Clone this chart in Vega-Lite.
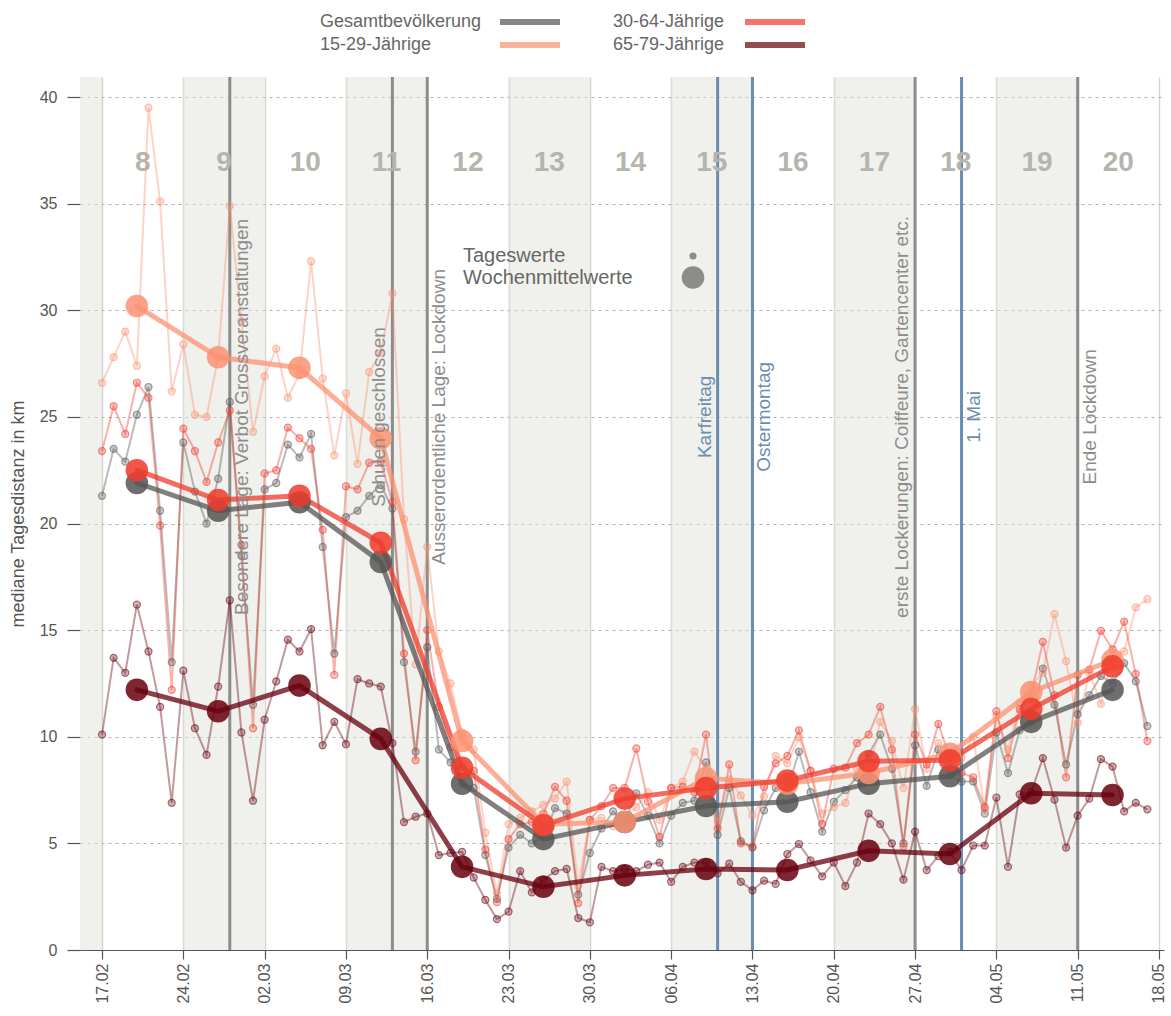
{
 "$schema": "https://vega.github.io/schema/vega-lite/v6.json",
 "width": 1084,
 "height": 873,
 "autosize": {"type": "none"},
 "padding": {"left": 80, "top": 77, "right": 7, "bottom": 66},
 "background": "white",
 "config": {
  "view": {"stroke": null},
  "font": "Liberation Sans",
  "axisX": {"domainColor": "#555555", "domainWidth": 1.2, "tickColor": "#555555", "tickSize": 9, "tickWidth": 1.2, "labelFontSize": 16, "labelColor": "#555555", "labelPadding": 4, "grid": true, "gridColor": "#d6d6cf", "gridWidth": 1.5},
  "axisY": {"domain": false, "tickColor": "#555555", "tickSize": 13, "tickWidth": 1.2, "labelFontSize": 16, "labelColor": "#555555", "labelPadding": 10, "grid": true, "gridColor": "#b0b0b0", "gridDash": [3, 4], "gridWidth": 1.2, "titleFontSize": 18, "titleFontWeight": "normal", "titleColor": "#555555", "titlePadding": 12}
 },
 "datasets": {
  "bands": [
   {"date": "2020-02-10", "end": "2020-02-17"},
   {"date": "2020-02-24", "end": "2020-03-02"},
   {"date": "2020-03-09", "end": "2020-03-16"},
   {"date": "2020-03-23", "end": "2020-03-30"},
   {"date": "2020-04-06", "end": "2020-04-13"},
   {"date": "2020-04-20", "end": "2020-04-27"},
   {"date": "2020-05-04", "end": "2020-05-11"}
  ],
  "events": [
   {"date": "2020-02-28", "label": "Besondere Lage: Verbot Grossveranstaltungen", "kind": "Massnahme"},
   {"date": "2020-03-13", "label": "Schulen geschlossen", "kind": "Massnahme"},
   {"date": "2020-03-16", "label": "Ausserordentliche Lage: Lockdown", "kind": "Massnahme"},
   {"date": "2020-04-10", "label": "Karfreitag", "kind": "Feiertag"},
   {"date": "2020-04-13", "label": "Ostermontag", "kind": "Feiertag"},
   {"date": "2020-04-27", "label": "erste Lockerungen: Coiffeure, Gartencenter etc.", "kind": "Massnahme"},
   {"date": "2020-05-01", "label": "1. Mai", "kind": "Feiertag"},
   {"date": "2020-05-11", "label": "Ende Lockdown", "kind": "Massnahme"}
  ],
  "weeks": [
   {"date": "2020-02-20T12:00:00Z", "week": "8"},
   {"date": "2020-02-27T12:00:00Z", "week": "9"},
   {"date": "2020-03-05T12:00:00Z", "week": "10"},
   {"date": "2020-03-12T12:00:00Z", "week": "11"},
   {"date": "2020-03-19T12:00:00Z", "week": "12"},
   {"date": "2020-03-26T12:00:00Z", "week": "13"},
   {"date": "2020-04-02T12:00:00Z", "week": "14"},
   {"date": "2020-04-09T12:00:00Z", "week": "15"},
   {"date": "2020-04-16T12:00:00Z", "week": "16"},
   {"date": "2020-04-23T12:00:00Z", "week": "17"},
   {"date": "2020-04-30T12:00:00Z", "week": "18"},
   {"date": "2020-05-07T12:00:00Z", "week": "19"},
   {"date": "2020-05-14T12:00:00Z", "week": "20"}
  ],
  "weekly": [
   {"date": "2020-02-20", "Gesamtbevölkerung": 21.9, "15-29-Jährige": 30.2, "30-64-Jährige": 22.5, "65-79-Jährige": 12.2},
   {"date": "2020-02-27", "Gesamtbevölkerung": 20.6, "15-29-Jährige": 27.8, "30-64-Jährige": 21.1, "65-79-Jährige": 11.2},
   {"date": "2020-03-05", "Gesamtbevölkerung": 21.0, "15-29-Jährige": 27.3, "30-64-Jährige": 21.3, "65-79-Jährige": 12.4},
   {"date": "2020-03-12", "Gesamtbevölkerung": 18.2, "15-29-Jährige": 24.0, "30-64-Jährige": 19.1, "65-79-Jährige": 9.9},
   {"date": "2020-03-19", "Gesamtbevölkerung": 7.8, "15-29-Jährige": 9.8, "30-64-Jährige": 8.55, "65-79-Jährige": 3.9},
   {"date": "2020-03-26", "Gesamtbevölkerung": 5.2, "15-29-Jährige": 5.9, "30-64-Jährige": 5.85, "65-79-Jährige": 2.97},
   {"date": "2020-04-02", "Gesamtbevölkerung": 6.0, "15-29-Jährige": 6.0, "30-64-Jährige": 7.1, "65-79-Jährige": 3.5},
   {"date": "2020-04-09", "Gesamtbevölkerung": 6.75, "15-29-Jährige": 8.05, "30-64-Jährige": 7.6, "65-79-Jährige": 3.8},
   {"date": "2020-04-16", "Gesamtbevölkerung": 6.95, "15-29-Jährige": 7.8, "30-64-Jährige": 7.95, "65-79-Jährige": 3.75},
   {"date": "2020-04-23", "Gesamtbevölkerung": 7.8, "15-29-Jährige": 8.3, "30-64-Jährige": 8.85, "65-79-Jährige": 4.65},
   {"date": "2020-04-30", "Gesamtbevölkerung": 8.15, "15-29-Jährige": 9.2, "30-64-Jährige": 8.9, "65-79-Jährige": 4.5},
   {"date": "2020-05-07", "Gesamtbevölkerung": 10.7, "15-29-Jährige": 12.1, "30-64-Jährige": 11.3, "65-79-Jährige": 7.35},
   {"date": "2020-05-14", "Gesamtbevölkerung": 12.2, "15-29-Jährige": 13.6, "30-64-Jährige": 13.3, "65-79-Jährige": 7.27}
  ],
  "daily": [
   {"date": "2020-02-17", "Gesamtbevölkerung": 21.3, "15-29-Jährige": 26.6, "30-64-Jährige": 23.4, "65-79-Jährige": 10.1},
   {"date": "2020-02-18", "Gesamtbevölkerung": 23.5, "15-29-Jährige": 27.8, "30-64-Jährige": 25.5, "65-79-Jährige": 13.7},
   {"date": "2020-02-19", "Gesamtbevölkerung": 22.9, "15-29-Jährige": 29.0, "30-64-Jährige": 24.2, "65-79-Jährige": 13.0},
   {"date": "2020-02-20", "Gesamtbevölkerung": 25.1, "15-29-Jährige": 27.4, "30-64-Jährige": 26.6, "65-79-Jährige": 16.2},
   {"date": "2020-02-21", "Gesamtbevölkerung": 26.4, "15-29-Jährige": 39.5, "30-64-Jährige": 25.9, "65-79-Jährige": 14.0},
   {"date": "2020-02-22", "Gesamtbevölkerung": 20.6, "15-29-Jährige": 35.1, "30-64-Jährige": 19.9, "65-79-Jährige": 11.4},
   {"date": "2020-02-23", "Gesamtbevölkerung": 13.5, "15-29-Jährige": 26.2, "30-64-Jährige": 12.2, "65-79-Jährige": 6.9},
   {"date": "2020-02-24", "Gesamtbevölkerung": 23.8, "15-29-Jährige": 28.4, "30-64-Jährige": 24.45, "65-79-Jährige": 13.1},
   {"date": "2020-02-25", "Gesamtbevölkerung": 21.5, "15-29-Jährige": 25.1, "30-64-Jährige": 23.4, "65-79-Jährige": 10.4},
   {"date": "2020-02-26", "Gesamtbevölkerung": 20.0, "15-29-Jährige": 25.0, "30-64-Jährige": 21.95, "65-79-Jährige": 9.15},
   {"date": "2020-02-27", "Gesamtbevölkerung": 22.1, "15-29-Jährige": 27.8, "30-64-Jährige": 23.8, "65-79-Jährige": 12.35},
   {"date": "2020-02-28", "Gesamtbevölkerung": 25.7, "15-29-Jährige": 34.9, "30-64-Jährige": 25.3, "65-79-Jährige": 16.4},
   {"date": "2020-02-29", "Gesamtbevölkerung": 18.5, "15-29-Jährige": 29.5, "30-64-Jährige": 19.0, "65-79-Jährige": 10.2},
   {"date": "2020-03-01", "Gesamtbevölkerung": 11.5, "15-29-Jährige": 24.3, "30-64-Jährige": 10.4, "65-79-Jährige": 7.0},
   {"date": "2020-03-02", "Gesamtbevölkerung": 21.6, "15-29-Jährige": 26.9, "30-64-Jährige": 22.35, "65-79-Jährige": 10.8},
   {"date": "2020-03-03", "Gesamtbevölkerung": 21.9, "15-29-Jährige": 28.2, "30-64-Jährige": 22.5, "65-79-Jährige": 12.6},
   {"date": "2020-03-04", "Gesamtbevölkerung": 23.7, "15-29-Jährige": 25.9, "30-64-Jährige": 24.5, "65-79-Jährige": 14.55},
   {"date": "2020-03-05", "Gesamtbevölkerung": 23.1, "15-29-Jährige": 27.0, "30-64-Jährige": 24.0, "65-79-Jährige": 14.0},
   {"date": "2020-03-06", "Gesamtbevölkerung": 24.2, "15-29-Jährige": 32.3, "30-64-Jährige": 23.5, "65-79-Jährige": 15.05},
   {"date": "2020-03-07", "Gesamtbevölkerung": 18.9, "15-29-Jährige": 26.8, "30-64-Jährige": 19.7, "65-79-Jährige": 9.6},
   {"date": "2020-03-08", "Gesamtbevölkerung": 13.9, "15-29-Jährige": 23.2, "30-64-Jährige": 12.9, "65-79-Jährige": 10.7},
   {"date": "2020-03-09", "Gesamtbevölkerung": 20.3, "15-29-Jährige": 26.1, "30-64-Jährige": 21.75, "65-79-Jährige": 9.65},
   {"date": "2020-03-10", "Gesamtbevölkerung": 20.6, "15-29-Jährige": 22.8, "30-64-Jährige": 21.6, "65-79-Jährige": 12.7},
   {"date": "2020-03-11", "Gesamtbevölkerung": 21.3, "15-29-Jährige": 27.1, "30-64-Jährige": 22.85, "65-79-Jährige": 12.5},
   {"date": "2020-03-12", "Gesamtbevölkerung": 21.8, "15-29-Jährige": 28.0, "30-64-Jährige": 22.9, "65-79-Jährige": 12.35},
   {"date": "2020-03-13", "Gesamtbevölkerung": 20.7, "15-29-Jährige": 30.8, "30-64-Jährige": 21.0, "65-79-Jährige": 9.7},
   {"date": "2020-03-14", "Gesamtbevölkerung": 13.5, "15-29-Jährige": 20.2, "30-64-Jährige": 13.9, "65-79-Jährige": 6.0},
   {"date": "2020-03-15", "Gesamtbevölkerung": 9.3, "15-29-Jährige": 13.4, "30-64-Jährige": 8.9, "65-79-Jährige": 6.25},
   {"date": "2020-03-16", "Gesamtbevölkerung": 14.2, "15-29-Jährige": 18.9, "30-64-Jährige": 15.0, "65-79-Jährige": 6.4},
   {"date": "2020-03-17", "Gesamtbevölkerung": 9.4, "15-29-Jährige": 14.0, "30-64-Jährige": 11.4, "65-79-Jährige": 4.45},
   {"date": "2020-03-18", "Gesamtbevölkerung": 8.8, "15-29-Jährige": 12.5, "30-64-Jährige": 9.5, "65-79-Jährige": 4.55},
   {"date": "2020-03-19", "Gesamtbevölkerung": 7.8, "15-29-Jährige": 10.2, "30-64-Jährige": 8.6, "65-79-Jährige": 4.6},
   {"date": "2020-03-20", "Gesamtbevölkerung": 7.6, "15-29-Jährige": 9.4, "30-64-Jährige": 8.4, "65-79-Jährige": 3.4},
   {"date": "2020-03-21", "Gesamtbevölkerung": 4.45, "15-29-Jährige": 5.5, "30-64-Jährige": 4.7, "65-79-Jährige": 2.35},
   {"date": "2020-03-22", "Gesamtbevölkerung": 2.4, "15-29-Jährige": 2.65, "30-64-Jährige": 2.25, "65-79-Jährige": 1.45},
   {"date": "2020-03-23", "Gesamtbevölkerung": 4.8, "15-29-Jährige": 5.9, "30-64-Jährige": 5.2, "65-79-Jährige": 1.8},
   {"date": "2020-03-24", "Gesamtbevölkerung": 5.4, "15-29-Jährige": 6.2, "30-64-Jährige": 5.9, "65-79-Jährige": 3.7},
   {"date": "2020-03-25", "Gesamtbevölkerung": 5.0, "15-29-Jährige": 6.5, "30-64-Jährige": 6.0, "65-79-Jährige": 2.7},
   {"date": "2020-03-26", "Gesamtbevölkerung": 5.3, "15-29-Jährige": 6.8, "30-64-Jährige": 6.4, "65-79-Jährige": 3.3},
   {"date": "2020-03-27", "Gesamtbevölkerung": 6.65, "15-29-Jährige": 7.1, "30-64-Jährige": 7.65, "65-79-Jährige": 3.7},
   {"date": "2020-03-28", "Gesamtbevölkerung": 6.4, "15-29-Jährige": 7.9, "30-64-Jährige": 7.0, "65-79-Jährige": 3.8},
   {"date": "2020-03-29", "Gesamtbevölkerung": 2.6, "15-29-Jährige": 3.0, "30-64-Jährige": 2.2, "65-79-Jährige": 1.5},
   {"date": "2020-03-30", "Gesamtbevölkerung": 4.55, "15-29-Jährige": 6.1, "30-64-Jährige": 6.1, "65-79-Jährige": 1.3},
   {"date": "2020-03-31", "Gesamtbevölkerung": 5.7, "15-29-Jährige": 6.2, "30-64-Jährige": 6.75, "65-79-Jährige": 3.9},
   {"date": "2020-04-01", "Gesamtbevölkerung": 6.5, "15-29-Jährige": 5.8, "30-64-Jährige": 7.6, "65-79-Jährige": 3.7},
   {"date": "2020-04-02", "Gesamtbevölkerung": 6.0, "15-29-Jährige": 6.2, "30-64-Jährige": 7.6, "65-79-Jährige": 3.8},
   {"date": "2020-04-03", "Gesamtbevölkerung": 7.35, "15-29-Jährige": 6.7, "30-64-Jährige": 9.45, "65-79-Jährige": 3.7},
   {"date": "2020-04-04", "Gesamtbevölkerung": 6.3, "15-29-Jährige": 7.4, "30-64-Jährige": 6.95, "65-79-Jährige": 4.0},
   {"date": "2020-04-05", "Gesamtbevölkerung": 5.0, "15-29-Jährige": 6.1, "30-64-Jährige": 5.3, "65-79-Jährige": 4.1},
   {"date": "2020-04-06", "Gesamtbevölkerung": 6.3, "15-29-Jährige": 7.6, "30-64-Jährige": 7.6, "65-79-Jährige": 3.2},
   {"date": "2020-04-07", "Gesamtbevölkerung": 6.9, "15-29-Jährige": 7.9, "30-64-Jährige": 7.65, "65-79-Jährige": 3.9},
   {"date": "2020-04-08", "Gesamtbevölkerung": 7.0, "15-29-Jährige": 9.3, "30-64-Jährige": 7.4, "65-79-Jährige": 4.1},
   {"date": "2020-04-09", "Gesamtbevölkerung": 8.8, "15-29-Jährige": 8.5, "30-64-Jährige": 10.1, "65-79-Jährige": 4.1},
   {"date": "2020-04-10", "Gesamtbevölkerung": 5.4, "15-29-Jährige": 6.0, "30-64-Jährige": 5.7, "65-79-Jährige": 3.6},
   {"date": "2020-04-11", "Gesamtbevölkerung": 7.6, "15-29-Jährige": 8.0, "30-64-Jährige": 8.7, "65-79-Jährige": 4.05},
   {"date": "2020-04-12", "Gesamtbevölkerung": 5.1, "15-29-Jährige": 7.25, "30-64-Jährige": 5.0, "65-79-Jährige": 3.2},
   {"date": "2020-04-13", "Gesamtbevölkerung": 4.8, "15-29-Jährige": 6.3, "30-64-Jährige": 4.85, "65-79-Jährige": 2.8},
   {"date": "2020-04-14", "Gesamtbevölkerung": 6.55, "15-29-Jährige": 7.2, "30-64-Jährige": 7.65, "65-79-Jährige": 3.25},
   {"date": "2020-04-15", "Gesamtbevölkerung": 7.6, "15-29-Jährige": 9.1, "30-64-Jährige": 8.75, "65-79-Jährige": 3.1},
   {"date": "2020-04-16", "Gesamtbevölkerung": 7.5, "15-29-Jährige": 8.75, "30-64-Jährige": 9.1, "65-79-Jährige": 4.5},
   {"date": "2020-04-17", "Gesamtbevölkerung": 9.3, "15-29-Jährige": 9.97, "30-64-Jährige": 10.3, "65-79-Jährige": 4.97},
   {"date": "2020-04-18", "Gesamtbevölkerung": 7.4, "15-29-Jährige": 8.4, "30-64-Jährige": 8.4, "65-79-Jährige": 4.2},
   {"date": "2020-04-19", "Gesamtbevölkerung": 5.55, "15-29-Jährige": 6.4, "30-64-Jährige": 5.9, "65-79-Jährige": 3.45},
   {"date": "2020-04-20", "Gesamtbevölkerung": 6.95, "15-29-Jährige": 6.7, "30-64-Jährige": 8.5, "65-79-Jährige": 4.1},
   {"date": "2020-04-21", "Gesamtbevölkerung": 7.5, "15-29-Jährige": 6.9, "30-64-Jährige": 8.55, "65-79-Jährige": 3.0},
   {"date": "2020-04-22", "Gesamtbevölkerung": 8.1, "15-29-Jährige": 8.5, "30-64-Jährige": 9.7, "65-79-Jährige": 4.1},
   {"date": "2020-04-23", "Gesamtbevölkerung": 9.2, "15-29-Jährige": 8.3, "30-64-Jährige": 10.1, "65-79-Jährige": 6.4},
   {"date": "2020-04-24", "Gesamtbevölkerung": 10.1, "15-29-Jährige": 10.7, "30-64-Jährige": 11.4, "65-79-Jährige": 5.9},
   {"date": "2020-04-25", "Gesamtbevölkerung": 8.5, "15-29-Jährige": 9.8, "30-64-Jährige": 9.4, "65-79-Jährige": 5.0},
   {"date": "2020-04-26", "Gesamtbevölkerung": 5.0, "15-29-Jährige": 7.6, "30-64-Jährige": 4.85, "65-79-Jährige": 3.3},
   {"date": "2020-04-27", "Gesamtbevölkerung": 9.6, "15-29-Jährige": 11.3, "30-64-Jährige": 10.1, "65-79-Jährige": 5.55},
   {"date": "2020-04-28", "Gesamtbevölkerung": 7.7, "15-29-Jährige": 8.5, "30-64-Jährige": 8.7, "65-79-Jährige": 3.75},
   {"date": "2020-04-29", "Gesamtbevölkerung": 9.4, "15-29-Jährige": 9.7, "30-64-Jährige": 10.6, "65-79-Jährige": 4.4},
   {"date": "2020-04-30", "Gesamtbevölkerung": 8.2, "15-29-Jährige": 9.2, "30-64-Jährige": 9.0, "65-79-Jährige": 4.6},
   {"date": "2020-05-01", "Gesamtbevölkerung": 7.9, "15-29-Jährige": 9.0, "30-64-Jährige": 8.3, "65-79-Jährige": 3.75},
   {"date": "2020-05-02", "Gesamtbevölkerung": 7.9, "15-29-Jährige": 10.0, "30-64-Jährige": 8.1, "65-79-Jährige": 4.9},
   {"date": "2020-05-03", "Gesamtbevölkerung": 6.4, "15-29-Jährige": 6.6, "30-64-Jährige": 6.7, "65-79-Jährige": 4.9},
   {"date": "2020-05-04", "Gesamtbevölkerung": 10.2, "15-29-Jährige": 11.0, "30-64-Jährige": 11.2, "65-79-Jährige": 7.15},
   {"date": "2020-05-05", "Gesamtbevölkerung": 8.3, "15-29-Jährige": 9.4, "30-64-Jährige": 9.0, "65-79-Jährige": 3.9},
   {"date": "2020-05-06", "Gesamtbevölkerung": 10.3, "15-29-Jährige": 11.6, "30-64-Jährige": 11.3, "65-79-Jährige": 7.3},
   {"date": "2020-05-07", "Gesamtbevölkerung": 10.7, "15-29-Jährige": 12.4, "30-64-Jährige": 12.0, "65-79-Jährige": 7.4},
   {"date": "2020-05-08", "Gesamtbevölkerung": 13.2, "15-29-Jährige": 13.0, "30-64-Jährige": 14.45, "65-79-Jährige": 9.0},
   {"date": "2020-05-09", "Gesamtbevölkerung": 11.5, "15-29-Jährige": 15.75, "30-64-Jährige": 11.95, "65-79-Jährige": 7.05},
   {"date": "2020-05-10", "Gesamtbevölkerung": 8.7, "15-29-Jährige": 13.55, "30-64-Jährige": 8.1, "65-79-Jährige": 4.8},
   {"date": "2020-05-11", "Gesamtbevölkerung": 11.05, "15-29-Jährige": 10.65, "30-64-Jährige": 12.9, "65-79-Jährige": 6.3},
   {"date": "2020-05-12", "Gesamtbevölkerung": 11.95, "15-29-Jährige": 13.0, "30-64-Jährige": 13.15, "65-79-Jährige": 7.1},
   {"date": "2020-05-13", "Gesamtbevölkerung": 12.85, "15-29-Jährige": 11.55, "30-64-Jährige": 14.97, "65-79-Jährige": 8.95},
   {"date": "2020-05-14", "Gesamtbevölkerung": 12.5, "15-29-Jährige": 13.8, "30-64-Jährige": 14.1, "65-79-Jährige": 8.6},
   {"date": "2020-05-15", "Gesamtbevölkerung": 13.45, "15-29-Jährige": 14.0, "30-64-Jährige": 15.4, "65-79-Jährige": 6.5},
   {"date": "2020-05-16", "Gesamtbevölkerung": 12.6, "15-29-Jährige": 16.07, "30-64-Jährige": 12.95, "65-79-Jährige": 6.9},
   {"date": "2020-05-17", "Gesamtbevölkerung": 10.5, "15-29-Jährige": 16.45, "30-64-Jährige": 9.8, "65-79-Jährige": 6.6}
  ]
 },
 "encoding": {
  "x": {
   "field": "date", "type": "temporal", "title": null,
   "scale": {"type": "utc", "domain": [{"year": 2020, "month": 2, "date": 15, "hours": 2, "minutes": 30, "utc": true}, {"year": 2020, "month": 5, "date": 18, "hours": 10, "minutes": 20, "utc": true}]},
   "axis": {
    "format": "%d.%m", "labelAngle": 270,
    "values": [
     {"year": 2020, "month": 2, "date": 17, "utc": true},
     {"year": 2020, "month": 2, "date": 24, "utc": true},
     {"year": 2020, "month": 3, "date": 2, "utc": true},
     {"year": 2020, "month": 3, "date": 9, "utc": true},
     {"year": 2020, "month": 3, "date": 16, "utc": true},
     {"year": 2020, "month": 3, "date": 23, "utc": true},
     {"year": 2020, "month": 3, "date": 30, "utc": true},
     {"year": 2020, "month": 4, "date": 6, "utc": true},
     {"year": 2020, "month": 4, "date": 13, "utc": true},
     {"year": 2020, "month": 4, "date": 20, "utc": true},
     {"year": 2020, "month": 4, "date": 27, "utc": true},
     {"year": 2020, "month": 5, "date": 4, "utc": true},
     {"year": 2020, "month": 5, "date": 11, "utc": true},
     {"year": 2020, "month": 5, "date": 18, "utc": true}
    ]
   }
  }
 },
 "layer": [
  {
   "data": {"name": "bands"},
   "mark": {"type": "rect", "color": "#e1e1d9", "opacity": 0.5, "clip": true},
   "encoding": {"x2": {"field": "end"}}
  },
  {
   "data": {"name": "events"},
   "transform": [{"filter": {"field": "kind", "equal": "Massnahme"}}],
   "mark": {"type": "rule", "strokeWidth": 3, "color": "#8c8c8c"},
   "encoding": {}
  },
  {
   "data": {"name": "events"},
   "transform": [{"filter": {"field": "kind", "equal": "Feiertag"}}],
   "mark": {"type": "rule", "strokeWidth": 3, "color": "#6a8db0"},
   "encoding": {}
  },
  {
   "data": {"name": "weeks"},
   "mark": {"type": "text", "fontSize": 28, "fontWeight": "bold", "color": "#b5b5ad", "baseline": "middle", "align": "center"},
   "encoding": {
    "y": {"datum": 36.9, "type": "quantitative"},
    "text": {"field": "week", "type": "nominal"}
   }
  },
  {
   "data": {"name": "daily"},
   "transform": [{"fold": ["Gesamtbevölkerung", "15-29-Jährige", "30-64-Jährige", "65-79-Jährige"], "as": ["series", "value"]}],
   "mark": {"type": "line", "strokeWidth": 2, "opacity": 0.4},
   "encoding": {
    "y": {
     "field": "value", "type": "quantitative",
     "scale": {"domain": [0, 40.94], "nice": false, "zero": true},
     "axis": {"values": [0, 5, 10, 15, 20, 25, 30, 35, 40], "title": "mediane Tagesdistanz in km"}
    },
    "color": {
     "field": "series", "type": "nominal",
     "scale": {"domain": ["Gesamtbevölkerung", "15-29-Jährige", "30-64-Jährige", "65-79-Jährige"], "range": ["#555555", "#fc9272", "#ef3b2c", "#67000d"]},
     "legend": {
      "orient": "none", "legendX": 240, "legendY": -66, "direction": "horizontal", "columns": 2, "title": null, "padding": 0,
      "values": ["Gesamtbevölkerung", "30-64-Jährige", "15-29-Jährige", "65-79-Jährige"],
      "symbolType": "stroke", "symbolSize": 3600, "symbolStrokeWidth": 6, "symbolOpacity": 0.7,
      "labelFontSize": 18, "labelColor": "#666666", "labelLimit": 400, "columnPadding": 41, "rowPadding": -2,
      "encode": {
       "labels": {"update": {"x": {"value": 0}, "y": {"value": 11}, "align": {"value": "left"}}},
       "symbols": {"update": {"x": {"signal": "datum.index % 2 ? 162 : 210"}, "y": {"value": 11}}}
      }
     }
    }
   }
  },
  {
   "data": {"name": "daily"},
   "transform": [{"fold": ["Gesamtbevölkerung", "15-29-Jährige", "30-64-Jährige", "65-79-Jährige"], "as": ["series", "value"]}],
   "mark": {"type": "circle", "fillOpacity": 0.3, "strokeOpacity": 0.55, "strokeWidth": 1.2},
   "encoding": {
    "y": {"field": "value", "type": "quantitative"},
    "color": {"field": "series", "type": "nominal"},
    "stroke": {"field": "series", "type": "nominal", "scale": {"domain": ["Gesamtbevölkerung", "15-29-Jährige", "30-64-Jährige", "65-79-Jährige"], "range": ["#555555", "#fc9272", "#ef3b2c", "#67000d"]}, "legend": null},
    "size": {
     "datum": "Tageswerte", "type": "ordinal",
     "scale": {"domain": ["Tageswerte", "Wochenmittelwerte"], "range": [50, 510]},
     "legend": {
      "orient": "none", "legendX": 383, "legendY": 169, "title": null, "padding": 0,
      "labelFontSize": 20, "labelColor": "#666666", "labelLimit": 400, "rowPadding": 0,
      "symbolType": "circle", "symbolFillColor": "#7a7a7a", "symbolStrokeColor": "#7a7a7a", "symbolStrokeWidth": 0, "symbolOpacity": 0.85,
      "encode": {
       "labels": {"update": {"x": {"value": 0}, "align": {"value": "left"}}},
       "symbols": {"update": {"x": {"value": 230}}}
      }
     }
    }
   }
  },
  {
   "data": {"name": "weekly"},
   "transform": [{"fold": ["Gesamtbevölkerung", "15-29-Jährige", "30-64-Jährige", "65-79-Jährige"], "as": ["series", "value"]}],
   "mark": {"type": "line", "strokeWidth": 5, "opacity": 0.75, "strokeCap": "round"},
   "encoding": {
    "y": {"field": "value", "type": "quantitative"},
    "color": {"field": "series", "type": "nominal"}
   }
  },
  {
   "data": {"name": "weekly"},
   "transform": [{"fold": ["Gesamtbevölkerung", "15-29-Jährige", "30-64-Jährige", "65-79-Jährige"], "as": ["series", "value"]}],
   "mark": {"type": "circle", "opacity": 0.85},
   "encoding": {
    "y": {"field": "value", "type": "quantitative"},
    "color": {"field": "series", "type": "nominal"},
    "size": {"datum": "Wochenmittelwerte", "type": "ordinal"}
   }
  },
  {
   "data": {"name": "events"},
   "transform": [{"filter": {"field": "label", "oneOf": ["Schulen geschlossen", "Karfreitag", "erste Lockerungen: Coiffeure, Gartencenter etc."]}}],
   "mark": {"type": "text", "angle": 270, "align": "center", "baseline": "bottom", "dy": -3, "fontSize": 19},
   "encoding": {
    "y": {"datum": 25, "type": "quantitative"},
    "text": {"field": "label", "type": "nominal"},
    "fill": {"field": "kind", "type": "nominal", "scale": {"domain": ["Massnahme", "Feiertag"], "range": ["#8c8c8c", "#6a8db0"]}, "legend": null}
   }
  },
  {
   "data": {"name": "events"},
   "transform": [{"filter": {"field": "label", "oneOf": ["Besondere Lage: Verbot Grossveranstaltungen", "Ausserordentliche Lage: Lockdown", "Ostermontag", "1. Mai", "Ende Lockdown"]}}],
   "mark": {"type": "text", "angle": 270, "align": "center", "baseline": "top", "dy": 3, "fontSize": 19},
   "encoding": {
    "y": {"datum": 25, "type": "quantitative"},
    "text": {"field": "label", "type": "nominal"},
    "fill": {"field": "kind", "type": "nominal", "legend": null}
   }
  }
 ]
}
